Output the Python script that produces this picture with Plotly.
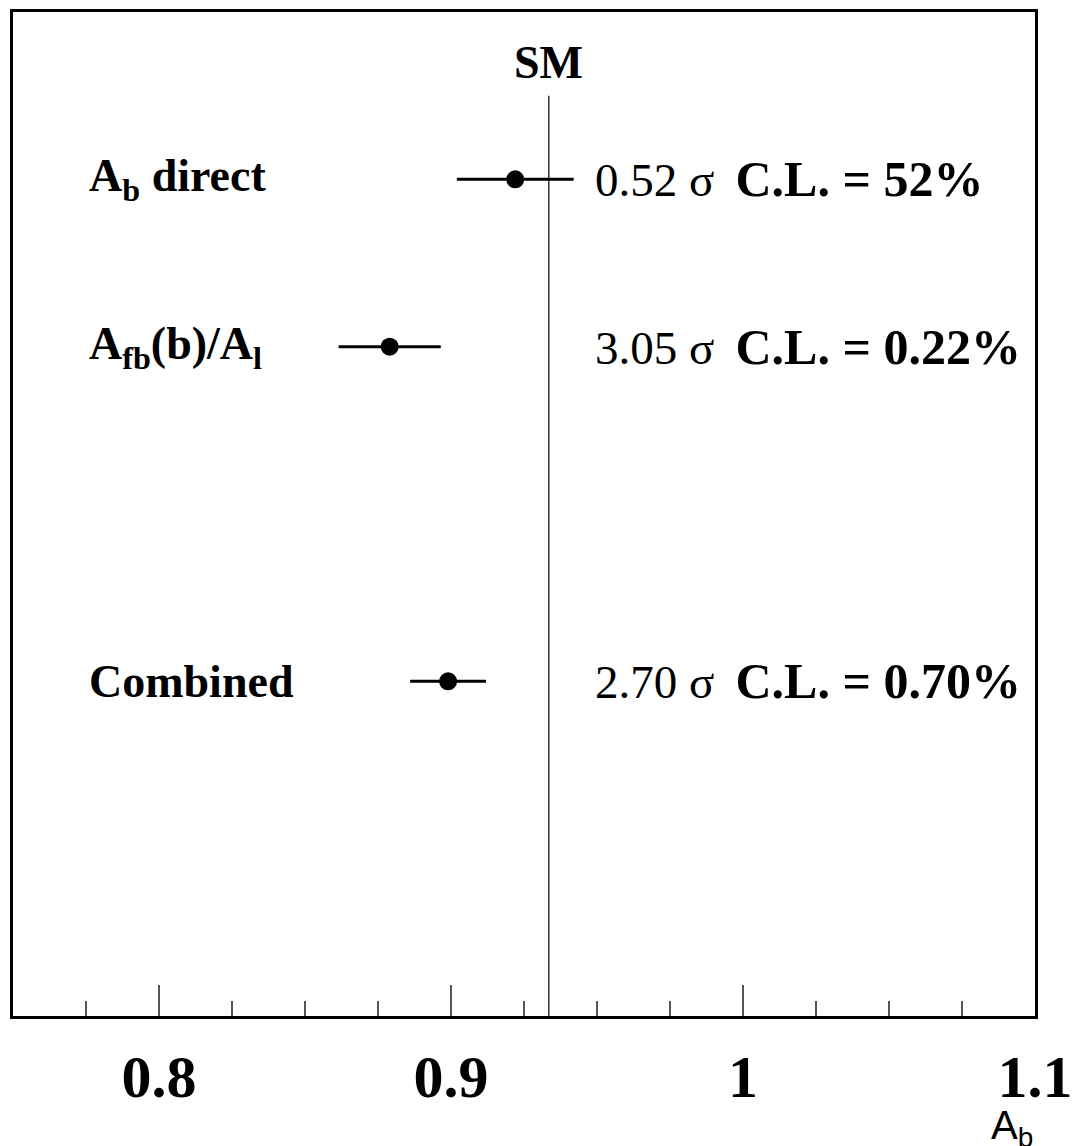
import plotly.graph_objects as go

# ---- data ----
labels = ["A<sub>b</sub> direct", "A<sub>fb</sub>(b)/A<sub>l</sub>", "Combined"]
values = [0.922, 0.879, 0.899]
errors = [0.020, 0.0175, 0.013]
rows = [5, 4, 2]
sigma_txt = ["0.52", "3.05", "2.70"]
cl_txt = ["52%", "0.22%", "0.70%"]
sm_value = 0.9335
sm_top = 5.5
x_ticks = [0.8, 0.9, 1.0, 1.1]
x_tick_text = ["0.8", "0.9", "1", "1.1"]
x_range = [0.75, 1.1]
y_range = [0, 6]
label_x = 0.7752
text_x = 0.9486
sm_label_y = 5.70

SERIF = "Liberation Serif, Times New Roman, serif"
SANS = "Liberation Sans, Arial, sans-serif"

fig = go.Figure()

# SM vertical line
fig.add_trace(go.Scatter(
    x=[sm_value, sm_value], y=[y_range[0], sm_top], mode="lines",
    line=dict(color="#333333", width=1.5), hoverinfo="skip", showlegend=False))

# measurements
fig.add_trace(go.Scatter(
    x=values, y=rows, mode="markers",
    marker=dict(color="black", size=18, symbol="circle"),
    error_x=dict(type="data", array=errors, color="black", thickness=3, width=0),
    showlegend=False))

annotations = []
for lab, r, s, c in zip(labels, rows, sigma_txt, cl_txt):
    annotations.append(dict(
        x=label_x, y=r, xref="x", yref="y", text=f"<b>{lab}</b>",
        showarrow=False, xanchor="left", yanchor="middle",
        font=dict(family=SERIF, size=46, color="black")))
    annotations.append(dict(
        x=text_x, y=r, xref="x", yref="y",
        text=f"{s} σ \u2009<b><span style='font-size:50px'>C.L. = {c}</span></b>",
        showarrow=False, xanchor="left", yanchor="middle",
        font=dict(family=SERIF, size=47, color="black")))

annotations.append(dict(
    x=sm_value, y=sm_label_y, xref="x", yref="y", text="<b>SM</b>",
    showarrow=False, xanchor="center", yanchor="middle",
    font=dict(family=SERIF, size=46, color="black")))

annotations.append(dict(
    x=1.0, y=-0.112, xref="paper", yref="paper", text="A<sub>b</sub>",
    showarrow=False, xanchor="right", yanchor="middle",
    font=dict(family=SANS, size=40, color="black")))

fig.update_layout(
    width=1082, height=1146,
    margin=dict(l=13, r=40, t=9, b=130),
    paper_bgcolor="white", plot_bgcolor="white",
    annotations=annotations,
    xaxis=dict(
        range=x_range, tickmode="array", tickvals=x_ticks, ticktext=x_tick_text,
        ticks="inside", ticklen=31, tickwidth=1.5, tickcolor="#555555",
        minor=dict(dtick=0.025, tick0=0.75, ticks="inside", ticklen=15,
                   tickwidth=1.5, tickcolor="#555555", showgrid=False),
        showgrid=False, zeroline=False,
        showline=True, linecolor="black", linewidth=3, mirror=True,
        tickfont=dict(family=SERIF, size=60, color="black", weight="bold"),
        ticklabelstandoff=6,
    ),
    yaxis=dict(
        range=y_range, showticklabels=False, ticks="", showgrid=False,
        zeroline=False, showline=True, linecolor="black", linewidth=3, mirror=True,
    ),
)

fig.write_html("out.html")
